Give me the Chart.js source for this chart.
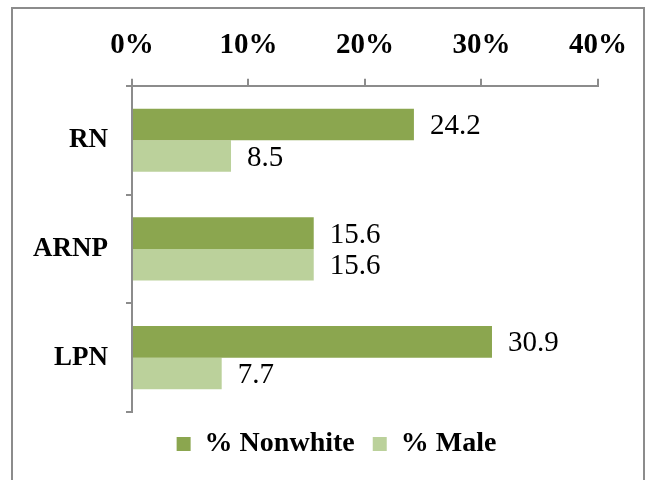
<!DOCTYPE html>
<html>
<head>
<meta charset="utf-8">
<script src="https://cdn.jsdelivr.net/npm/chart.js@4"></script>
<style>
  html, body { margin: 0; padding: 0; background: #fff; }
  #frame {
    position: absolute; left: 11px; top: 7px;
    width: 634px; height: 480px;
    border: 2px solid #8c8c8c; box-sizing: border-box;
  }
  #wrap { position: absolute; left: 0; top: 0; width: 646px; height: 480px; }
</style>
</head>
<body>
<div id="frame"></div>
<div id="wrap"><canvas id="chart" width="646" height="480"></canvas></div>
<script>
// datos del grafico
const categorias = ["RN", "ARNP", "LPN"];
const noBlancos = [24.2, 15.6, 30.9];
const hombres = [8.5, 15.6, 7.7];
const ticksX = [0, 10, 20, 30, 40];

const serif = "'Liberation Serif', 'Times New Roman', serif";
const gris = "#8c8c8c";

// etiquetas con el valor al final de cada barra
const etiquetas = {
  id: "etiquetas",
  afterDatasetsDraw(chart) {
    const ctx = chart.ctx;
    ctx.save();
    ctx.font = "29px " + serif;
    ctx.fillStyle = "#000";
    ctx.textBaseline = "middle";
    ctx.textAlign = "left";
    chart.data.datasets.forEach((ds, i) => {
      chart.getDatasetMeta(i).data.forEach((bar, j) => {
        ctx.fillText(ds.data[j].toFixed(1), bar.x + 16, bar.y + 2);
      });
    });
    ctx.restore();
  },
};

// mueve la leyenda un poco a la derecha, como en el original
const moverLeyenda = {
  id: "moverLeyenda",
  afterLayout(chart) {
    chart.legend.left += 30;
    chart.legend.right += 30;
  },
};

new Chart(document.getElementById("chart"), {
  type: "bar",
  data: {
    labels: categorias,
    datasets: [
      {
        label: "% Nonwhite",
        data: noBlancos,
        backgroundColor: "#8ba64f",
      },
      {
        label: "% Male",
        data: hombres,
        backgroundColor: "#bbd19b",
      },
    ],
  },
  options: {
    indexAxis: "y",
    responsive: false,
    animation: false,
    categoryPercentage: 0.58,
    barPercentage: 1.0,
    layout: { padding: { left: 15, right: 48, top: 12, bottom: 12 } },
    plugins: {
      tooltip: { enabled: false },
      legend: {
        position: "bottom",
        labels: {
          color: "#000",
          font: { family: serif, size: 28, weight: "bold" },
          boxWidth: 14,
          boxHeight: 14,
          padding: 18,
        },
      },
    },
    scales: {
      x: {
        position: "top",
        min: 0,
        max: 40,
        afterBuildTicks: (axis) => {
          axis.ticks = ticksX.map((v) => ({ value: v }));
        },
        ticks: {
          color: "#000",
          font: { family: serif, size: 29, weight: "bold" },
          padding: 16,
          callback: (v) => v + "%",
        },
        grid: {
          drawOnChartArea: false,
          tickLength: 7,
          color: gris,
          lineWidth: 2,
        },
        border: { color: gris, width: 2 },
      },
      y: {
        ticks: {
          color: "#000",
          font: { family: serif, size: 27, weight: "bold" },
          padding: 18,
        },
        grid: {
          offset: true,
          drawOnChartArea: false,
          tickLength: 6,
          color: gris,
          lineWidth: 2,
        },
        border: { color: gris, width: 2 },
      },
    },
  },
  plugins: [etiquetas, moverLeyenda],
});
</script>
</body>
</html>
